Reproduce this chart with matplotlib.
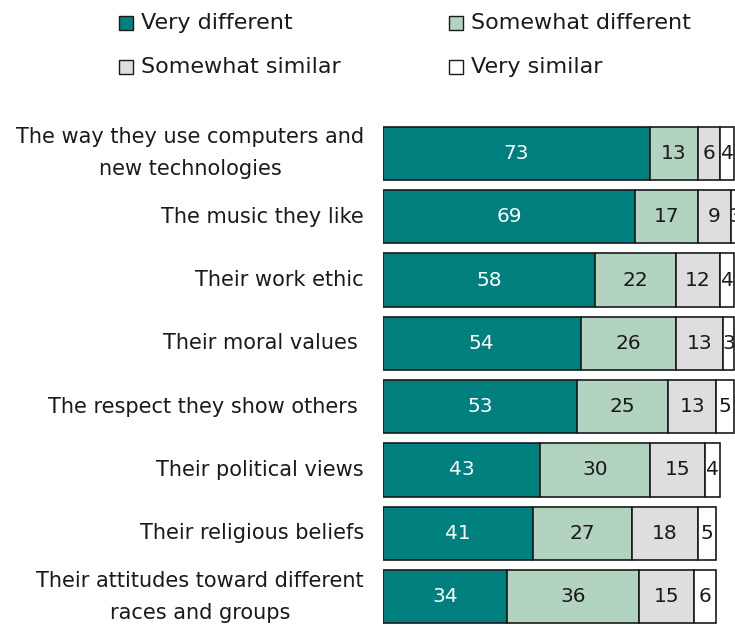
import matplotlib.pyplot as plt
from matplotlib.patches import Rectangle

categories = [
    "The way they use computers and\nnew technologies",
    "The music they like",
    "Their work ethic",
    "Their moral values ",
    "The respect they show others ",
    "Their political views",
    "Their religious beliefs",
    "Their attitudes toward different\nraces and groups",
]
series_names = ["Very different", "Somewhat different", "Somewhat similar", "Very similar"]
very_different = [73, 69, 58, 54, 53, 43, 41, 34]
somewhat_different = [13, 17, 22, 26, 25, 30, 27, 36]
somewhat_similar = [6, 9, 12, 13, 13, 15, 18, 15]
very_similar = [4, 3, 4, 3, 5, 4, 5, 6]

colors = ["#007f7f", "#b2d3bf", "#dedede", "#ffffff"]
text_colors = ["white", "#1a1a1a", "#1a1a1a", "#1a1a1a"]
edge = "#1a1a1a"

plt.rcParams["font.family"] = ["DejaVu Sans"]

W, H = 735, 625
fig = plt.figure(figsize=(W / 100, H / 100), dpi=100)

# axes spans px x 383..735, y 120..625
ax = fig.add_axes([383 / W, 0, 1 - 383 / W, (625 - 120) / H])
ax.set_xlim(0, 96.2)
ax.set_ylim(7.449, -0.529)
ax.axis("off")

data = [very_different, somewhat_different, somewhat_similar, very_similar]
ypos = list(range(len(categories)))
left = [0] * len(categories)
for vals, col, tcol in zip(data, colors, text_colors):
    bars = ax.barh(ypos, vals, left=left, height=0.84, color=col,
                   edgecolor=edge, linewidth=1.2)
    for b, v in zip(bars, vals):
        cx = b.get_x() + b.get_width() / 2
        ax.text(cx, b.get_y() + b.get_height() / 2, str(v), ha="center",
                va="center", color=tcol, fontsize=14.5)
    left = [l + v for l, v in zip(left, vals)]

for y, label in zip(ypos, categories):
    ax.text(-5.2, y, label, ha="right", va="center", multialignment="center",
            fontsize=15, color="#1a1a1a", linespacing=1.75)

# legend drawn manually, two columns
leg_pos = [(119, 23), (449, 23), (119, 67), (449, 67)]
for name, col, (px, py) in zip(series_names, colors, leg_pos):
    fig.patches.append(Rectangle(((px) / W, 1 - (py + 7) / H), 14 / W, 14 / H,
                                 transform=fig.transFigure, facecolor=col,
                                 edgecolor=edge, linewidth=1.0))
    fig.text((px + 22) / W, 1 - py / H, name, ha="left", va="center",
             fontsize=16, color="#1a1a1a")

fig.savefig("out.png", dpi=100)
